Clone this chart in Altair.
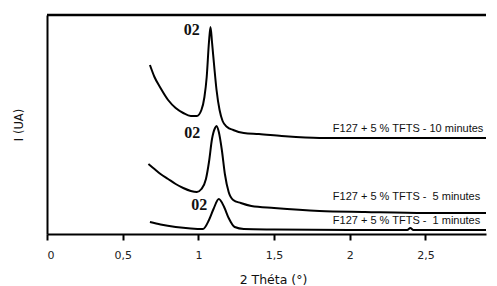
import altair as alt
import pandas as pd

# 2 Theta values and intensities (arbitrary units)
x_10 = [0.68, 0.71, 0.75, 0.80, 0.85, 0.90, 0.95, 0.99, 1.02, 1.04, 1.055, 1.07, 1.08,
        1.09, 1.105, 1.12, 1.14, 1.16, 1.19, 1.23, 1.30, 1.40, 1.55, 1.80, 2.10, 2.90]
y_10 = [169, 157, 146, 134, 126, 121, 118, 118, 124, 137, 157, 192, 207,
        192, 167, 144, 124, 113, 107, 104, 101, 100, 98, 96, 96, 96]

x_5 = [0.67, 0.71, 0.75, 0.80, 0.85, 0.90, 0.95, 0.99, 1.02, 1.05, 1.07, 1.09, 1.11, 1.12,
       1.135, 1.155, 1.175, 1.20, 1.23, 1.28, 1.35, 1.50, 1.80, 2.10, 2.50, 2.90]
y_5 = [70, 65, 60, 55, 50, 46, 43, 42, 45, 55, 72, 95, 106, 108,
       102, 84, 60, 42, 34, 31, 28, 26, 23, 22, 21, 21]

x_1 = [0.68, 0.75, 0.85, 0.95, 1.03, 1.07, 1.10, 1.135, 1.17, 1.20, 1.24, 1.30, 1.50,
       2.00, 2.38, 2.40, 2.42, 2.90]
y_1 = [12, 9.5, 7, 5.5, 5, 14, 25, 35, 27, 16, 7, 5, 4.5, 4, 4, 6, 4, 4]

series_names = ["10 min", "5 min", "1 min"]

peak_label = "02"
peak_x = [0.956, 0.96, 1.005]
peak_y = [203.7, 101, 29]

NB = "\u00a0"
curve_labels = ["F127 + 5 % TFTS - 10 minutes",
                "F127 + 5 % TFTS -" + NB + NB + "5 minutes",
                "F127 + 5 % TFTS -" + NB + NB + "1 minutes"]
curve_label_x = [1.888, 1.888, 1.888]
curve_label_y = [105, 37, 13]

x_ticks = [0, 0.5, 1, 1.5, 2, 2.5]
x_max = 2.9
y_max = 219

rows = []
for name, xs, ys in zip(series_names, [x_10, x_5, x_1], [y_10, y_5, y_1]):
    for a, b in zip(xs, ys):
        rows.append({"serie": name, "x": a, "y": b})
df = pd.DataFrame(rows)

peaks = pd.DataFrame({"x": peak_x, "y": peak_y, "t": [peak_label] * 3})
labels = pd.DataFrame({"x": curve_label_x, "y": curve_label_y, "t": curve_labels})
border = pd.DataFrame({"x": [0.0], "x2": [x_max], "y": [float(y_max)]})

xscale = alt.Scale(domain=[0, x_max], nice=False, zero=False)
yscale = alt.Scale(domain=[0, y_max], nice=False)

xaxis = alt.Axis(values=x_ticks, title="2 Théta (°)",
                 labelExpr="replace(toString(datum.value), '.', ',')",
                 grid=False, domainColor="black", domainWidth=2,
                 tickColor="black", tickWidth=2, tickSize=6,
                 labelFont="DejaVu Sans", labelFontSize=11, labelColor="#222",
                 labelPadding=9, titleFont="DejaVu Sans", titleFontSize=12.5,
                 titleFontWeight="normal", titleColor="#111", titlePadding=13,
                 titleX=226)
yaxis = alt.Axis(title="I (UA)", labels=False, ticks=False, grid=False,
                 domainColor="black", domainWidth=2,
                 titleFont="DejaVu Sans", titleFontSize=11.5,
                 titleFontWeight="normal", titleColor="#111", titlePadding=23)

lines = alt.Chart(df).mark_line(color="black", strokeWidth=2, interpolate="monotone",
                                clip=True).encode(
    x=alt.X("x:Q", scale=xscale, axis=xaxis),
    y=alt.Y("y:Q", scale=yscale, axis=yaxis),
    detail="serie:N",
)

top = alt.Chart(border).mark_rule(color="black", strokeWidth=2.5).encode(
    x="x:Q", x2="x2:Q", y="y:Q"
)

peak_text = alt.Chart(peaks).mark_text(font="Liberation Serif", fontSize=16,
                                       fontWeight="bold", color="#111").encode(
    x="x:Q", y="y:Q", text="t:N"
)

curve_text = alt.Chart(labels).mark_text(font="Liberation Sans", fontSize=11,
                                         align="left", color="#111").encode(
    x="x:Q", y="y:Q", text="t:N"
)

chart = alt.layer(lines, top, peak_text, curve_text).properties(
    width=439, height=219,
    padding={"left": 5, "top": 5, "right": 0, "bottom": 0},
).configure_view(stroke=None)

chart.save("out.html", embed_options={"renderer": "svg", "actions": False})
